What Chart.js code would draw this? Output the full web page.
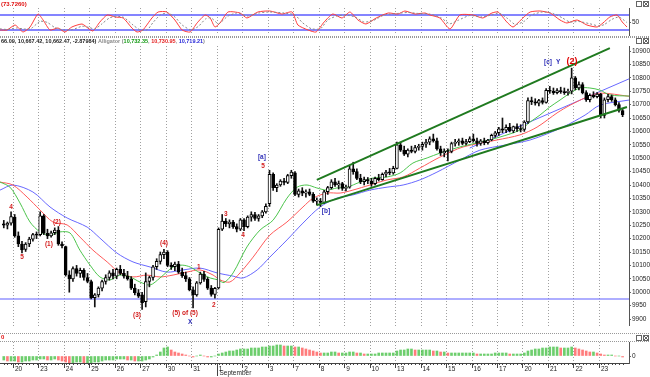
<!DOCTYPE html>
<html lang="en">
<head>
<meta charset="UTF-8">
<title>Dow Jones hourly - Alligator</title>
<style>
  body { margin: 0; background: #fff; }
  .wrap { position: relative; width: 650px; height: 377px; overflow: hidden; background: #fff; }
  canvas { position: absolute; left: 0; }
</style>
</head>
<body>
<div class="wrap">
  <canvas id="stoch" width="650" height="37" style="top:0"></canvas>
  <canvas id="price" width="650" height="289" style="top:37px"></canvas>
  <canvas id="osc" width="650" height="51" style="top:326px"></canvas>
</div>
<script src="https://cdn.jsdelivr.net/npm/chart.js@4"></script>
<script>
// hourly bars, 7 per session, index 0 = Aug 19 late session
const opens  = [10255,10250,10258, 10280,10210,10180,10160,10180,10198,10215, 10215,10285,10220,10210,10222,10232,10180,
  10170,10065,10050,10088,10070,10082,10055, 10040,9980,9990,10015,10040,10055,10072, 10060,10085,10070,10060,10050,10015,9998,
  9990,9965,10040,10055,10095,10115,10140, 10150,10100,10095,10105,10075,10062,10050, 10009,9990,10035,10068,10048,10015,9992,
  10016,10235,10265,10255,10262,10245,10235, 10270,10245,10280,10290,10275,10285,10300, 10330,10440,10390,10400,10415,10410,10435,
  10445,10365,10378,10370,10375,10365,10340, 10340,10335,10375,10390,10412,10400,10405, 10387,10392,10460,10450,10425,10412,10420,
  10415,10405,10425,10420,10440,10448,10445, 10462,10550,10530,10515,10530,10525,10540, 10544,10552,10560,10572,10565,10535,10520,
  10526,10525,10555,10560,10565,10555,10562, 10572,10565,10555,10565,10558,10568,10585, 10595,10610,10605,10615,10602,10618,10610,
  10607,10635,10715,10710,10705,10715,10708, 10753,10750,10745,10752,10748,10745,10750, 10800,10762,10775,10745,10718,10735,10730,
  10739,10660,10718,10730,10718,10700,10678];
const highs  = [10268,10262,10300, 10290,10225,10190,10185,10205,10220,10225, 10300,10290,10235,10228,10240,10245,10188,
  10172,10080,10095,10100,10090,10088,10070, 10045,9995,10020,10045,10065,10080,10085, 10090,10100,10085,10078,10058,10030,10010,
  10000,10072,10060,10100,10125,10150,10160, 10155,10110,10112,10115,10090,10075,10055, 10020,10040,10075,10078,10055,10025,10018,
  10240,10290,10275,10270,10268,10255,10275, 10275,10285,10300,10298,10290,10305,10330, 10455,10445,10405,10420,10425,10440,10455,
  10450,10385,10390,10382,10385,10372,10352, 10350,10380,10395,10420,10425,10415,10410, 10400,10470,10485,10460,10440,10430,10428,
  10425,10430,10440,10445,10455,10462,10470, 10560,10560,10545,10535,10545,10548,10552, 10560,10570,10580,10590,10575,10545,10535,
  10535,10560,10570,10572,10575,10570,10580, 10590,10575,10570,10575,10570,10590,10600, 10615,10650,10625,10630,10620,10628,10625,
  10640,10725,10728,10722,10720,10725,10760, 10768,10762,10760,10765,10762,10758,10836, 10805,10785,10782,10752,10740,10748,10745,
  10742,10725,10738,10736,10725,10708,10682];
const lows   = [10240,10236,10250, 10205,10170,10147,10152,10170,10190,10200, 10210,10215,10200,10205,10215,10175,10165,
  10060,10000,10040,10060,10055,10045,10035, 9975,9945,9982,10005,10030,10045,10050, 10050,10065,10052,10045,10010,9990,9980,
  9936,9945,10020,10045,10085,10105,10125, 10095,10085,10080,10070,10055,10040,10005, 9941,9985,10030,10040,10010,9985,9978,
  10012,10230,10245,10240,10238,10225,10230, 10230,10240,10265,10268,10265,10278,10295, 10320,10380,10375,10395,10400,10405,10425,
  10360,10355,10360,10355,10360,10335,10325, 10320,10330,10365,10385,10395,10385,10380, 10378,10388,10440,10420,10405,10400,10405,
  10395,10400,10415,10418,10430,10438,10440, 10460,10525,10510,10505,10520,10520,10530, 10530,10540,10550,10560,10530,10510,10505,
  10490,10520,10545,10548,10550,10550,10558, 10560,10545,10548,10550,10552,10565,10578, 10585,10595,10595,10598,10595,10600,10598,
  10600,10630,10700,10698,10695,10702,10705, 10742,10738,10740,10742,10738,10735,10740, 10755,10755,10740,10712,10710,10725,10725,
  10650,10650,10710,10712,10695,10672,10655];
const closes = [10250,10258,10282, 10210,10180,10158,10180,10198,10215,10213, 10285,10220,10210,10222,10232,10180,10174,
  10065,10050,10088,10070,10082,10055,10040, 9980,9990,10015,10040,10055,10072,10060, 10085,10070,10060,10050,10015,9998,9985,
  9960,10040,10055,10095,10115,10140,10150, 10100,10095,10105,10075,10062,10050,10009, 9990,10035,10068,10048,10015,9992,10014,
  10235,10265,10255,10262,10245,10235,10270, 10245,10280,10290,10275,10285,10300,10320, 10440,10390,10400,10415,10410,10435,10448,
  10365,10378,10370,10375,10365,10340,10340, 10335,10375,10390,10412,10400,10405,10387, 10392,10460,10450,10425,10412,10420,10415,
  10405,10425,10420,10440,10448,10445,10462, 10550,10530,10515,10530,10525,10540,10544, 10552,10560,10572,10565,10535,10520,10526,
  10525,10555,10560,10565,10555,10562,10572, 10565,10555,10565,10558,10568,10585,10595, 10610,10605,10615,10602,10618,10610,10607,
  10635,10715,10710,10705,10715,10708,10753, 10750,10745,10752,10748,10745,10750,10800, 10762,10775,10745,10718,10735,10730,10739,
  10660,10718,10730,10718,10700,10678,10662];

// Alligator lines: [bar index, value]
const lipsLine = [[-1.04,10411],[1.7,10392],[4.45,10333],[7.2,10262],[9.95,10225],[12.7,10213],[15.4,10225],[18.2,10221],
  [20.9,10157],[23.7,10101],[26.4,10057],[29.2,10046],[31.9,10064],[34.7,10057],[37.4,10038],[40.2,10027],[42.9,10053],
  [46.5,10094],[49,10101],[51.2,10094],[53.9,10072],[56.7,10053],[58.9,10046],[60.5,10036],[63,10072],[66.8,10169],
  [70.4,10232],[74,10269],[77.8,10351],[80.6,10392],[83.3,10400],[86,10389],[88.8,10381],[91.5,10389],[94.3,10392],
  [97.9,10411],[101.4,10426],[105.3,10430],[108.9,10445],[112.4,10482],[116.3,10501],[119.8,10519],[125.3,10542],
  [130.8,10560],[136.3,10579],[141.8,10605],[144.6,10635],[147.3,10661],[150,10691],[152.8,10717],[155.6,10743],
  [158.3,10762],[161,10762],[163.8,10754],[166.5,10736],[171.76,10732]];
const teethLine = [[-1.04,10411],[2.5,10400],[6.4,10355],[9.95,10307],[13.5,10262],[17.4,10251],[20.9,10206],[24.5,10157],
  [28.4,10113],[31.9,10072],[35.5,10057],[39.3,10064],[42.9,10057],[46.5,10064],[50.3,10075],[53.9,10083],[57.5,10064],
  [59.4,10046],[62.1,10038],[64.9,10072],[68.5,10131],[73.1,10213],[77.8,10262],[82.2,10318],[85,10351],[88.8,10370],
  [92.4,10370],[95.9,10381],[100.6,10400],[105.3,10419],[109.7,10430],[114.3,10463],[119.8,10504],[126.2,10542],
  [135.5,10568],[141.8,10587],[146.5,10616],[152,10669],[155.6,10698],[160.2,10728],[163.8,10743],[171.76,10731]];
const jawLine = [[-1.04,10381],[2.5,10400],[8,10374],[12.7,10318],[17.4,10277],[22.9,10243],[26.4,10202],[31.1,10146],
  [35.5,10113],[40.2,10094],[44.8,10075],[49.2,10083],[53.9,10090],[58.6,10072],[63,10060],[65.7,10053],[69.6,10083],
  [73.1,10131],[77.8,10195],[82.2,10258],[86.9,10318],[91.5,10351],[95.9,10363],[100.6,10381],[105.3,10392],[109.7,10400],
  [114.3,10419],[119,10448],[125.3,10493],[130.8,10530],[137.7,10549],[144.6,10568],[153.6,10616],[159.7,10661],
  [163.8,10698],[171.76,10717]];

// hand drawn lines
const upperChannel = [[86.0,10419],[166.5,10911]];
const lowerChannel = [[86.0,10325],[171.2,10691]];
const blueTrend = [[128.0,10538],[171.76,10796]];
const supportLevel = 9975;

// wave count labels: text, bar index, value, colour key
const waveNotes = [
  ['4',2.0,10318,'r'],['5',5.0,10131,'r'],['(1)',12.4,10180,'r'],['(2)',14.6,10262,'r'],['(3)',36.6,9915,'r'],
  ['(4)',44.0,10184,'r'],['(5) of (5)',49.8,9922,'r'],['X',51.2,9889,'b'],['1',53.6,10094,'r'],['2',57.7,9952,'r'],
  ['3',61.0,10292,'r'],['4',65.7,10213,'r'],['5',71.2,10471,'r'],['[a]',70.9,10504,'b'],['[b]',88.5,10303,'b'],
  ['[c]',149.5,10859,'b'],['Y',152.3,10859,'b'],['(2)',156.1,10859,'R']
];

// stochastic %K and %D
const stochK = [[-1.04,20],[0.9,20],[3.1,40],[5.3,12],[7.2,32],[9.4,84],[10.8,60],[12.7,20],[14.9,28],[16.8,12],[18.7,32],
  [21.5,44],[23.1,28],[24.5,16],[26.4,52],[28.4,80],[30.6,72],[32.8,68],[35.2,28],[36.6,12],[38.2,20],[40.7,68],[42.4,92],
  [44.8,92],[47,60],[49,20],[51.2,12],[53.1,48],[55.3,80],[56.7,68],[58,32],[59.4,48],[61.6,92],[64.9,88],[66.8,68],
  [69.8,92],[73.1,96],[76.4,84],[79.2,92],[80.8,40],[83.6,20],[85.8,12],[88,52],[90.4,84],[92.9,68],[95.1,92],[97.3,60],
  [99.5,44],[102.3,68],[105.6,88],[108.3,84],[110.2,96],[113,84],[115.7,88],[117.1,80],[119.8,68],[122.6,24],[125.3,80],
  [128.9,80],[131.6,68],[134.1,88],[135.8,92],[138.2,52],[139.9,32],[142.6,68],[144.6,92],[147.3,96],[150.1,88],
  [152.8,60],[154.7,48],[157.5,60],[160.2,40],[163,32],[164.6,48],[166.5,72],[168.5,80],[169.9,52],[171.2,32]];
const stochD = [[-1.04,25],[1,22],[3.5,28],[5.5,24],[7.5,26],[10,55],[12,50],[14,30],[16.5,20],[19,22],[21.5,35],[23.5,30],
  [25,24],[27,45],[29,68],[31,75],[33,70],[35.5,40],[37.5,20],[39.5,22],[41,50],[43,80],[45,88],[47,72],[49,40],[51.5,20],
  [53.5,35],[55.5,65],[57,68],[59,45],[61.5,75],[64,88],[67,76],[70,88],[73,92],[77,88],[80,80],[82,50],[84.5,25],[87,25],
  [89,60],[91.5,76],[94,80],[96.5,72],[99,52],[101.5,58],[104.5,80],[108,86],[111,90],[114,86],[117,84],[120,70],
  [122.5,45],[125,60],[128,78],[131,72],[134,80],[136,88],[138.5,65],[140.5,42],[143,55],[145,80],[148,92],[151,86],
  [153.5,68],[155.5,52],[158,54],[161,45],[163.5,36],[165,42],[167,62],[169,72],[171.2,50]];

// oscillator histogram, one value per bar
const oscVals = [-4,-5,-5, -5,-6,-6,-5,-5,-4,-4, -3,-3,-4,-4,-3,-4,-5, -6,-7,-7,-6,-6,-7,-7, -7,-6,-6,-5,-4,-4,-4,
  -3,-3,-3,-4,-4,-5,-5, -5,-4,-3,-1,1,4,8, 9,6,4,3,2,1,0, -1,0,1,0,-1,-1,0, 2,3,4,5,5,6,7, 7,7,8,8,8,9,9,
  10,10,11,11,10,10,10, 9,9,8,7,6,5,4, 3,3,3,4,4,3,3, 3,4,4,3,3,2,2, 2,2,3,3,3,3,3, 5,6,6,7,7,6,6,
  6,6,6,5,5,4,4, 3,3,3,3,3,3,3, 3,2,2,2,2,2,3, 3,3,3,2,2,2,2, 3,5,6,7,7,8,8, 9,9,9,8,8,8,9,
  8,7,6,5,4,4,3, 2,1,1,1,0,0,-1];

// sessions: first bar index of each day and its label
const dayStart = [3,10,17,24,31,38,45,52,59,66,73,80,87,94,101,108,115,122,129,136,143,150,157,164];
const dayLabels = ['20','23','24','25','26','27','30','31','1','2','3','7','8','9','10','13','14','15','16','17','20','21','22','23'];
const monthNote = ['September', 59];

const X_MIN = -1.04, X_MAX = 171.76;
const FONT = "'Liberation Sans', Arial, sans-serif";
Chart.defaults.font.family = FONT;

const pts = arr => arr.map(([x, y]) => ({ x, y }));
const flat = (y, color, width) => ({ type: 'line', data: [{ x: X_MIN, y }, { x: X_MAX, y }], borderColor: color,
  borderWidth: width, pointRadius: 0, order: 5 });
const xAxis = { type: 'linear', min: X_MIN, max: X_MAX, offset: false, display: false };
const rightAxis = (extra) => Object.assign({
  position: 'right',
  grid: { display: true, drawOnChartArea: false, drawTicks: true, tickLength: 2, color: '#666' },
  border: { display: true, color: '#555' },
  afterFit: s => { s.width = 21; s.paddingTop = 0; s.paddingBottom = 0; },
  ticks: { font: { size: 6.5 }, color: '#222', padding: 1 }
}, extra);
const baseOpts = pad => ({
  responsive: false, animation: false, events: [],
  layout: { padding: pad },
  plugins: { legend: { display: false }, tooltip: { enabled: false } }
});

const dayGrid = {
  id: 'dayGrid',
  beforeDatasetsDraw(chart) {
    const { ctx, chartArea: a, scales: { x } } = chart;
    ctx.save();
    ctx.strokeStyle = '#a0a0a0';
    ctx.lineWidth = 1;
    ctx.setLineDash([1, 2]);
    dayStart.forEach(d => {
      const px = Math.round(x.getPixelForValue(d - 0.5)) + 0.5;
      ctx.beginPath(); ctx.moveTo(px, a.top); ctx.lineTo(px, a.bottom); ctx.stroke();
    });
    ctx.restore();
  }
};

function hline(ctx, y, x1, x2, color, dash) {
  ctx.save();
  ctx.strokeStyle = color; ctx.lineWidth = 1; ctx.setLineDash(dash || []);
  ctx.beginPath(); ctx.moveTo(x1, y); ctx.lineTo(x2, y); ctx.stroke();
  ctx.restore();
}

function panelIcons(ctx, y) {
  ctx.save();
  ctx.strokeStyle = '#666'; ctx.lineWidth = 1;
  ctx.strokeRect(636.5, y + 0.5, 5, 5);
  ctx.strokeRect(643.5, y + 0.5, 5, 5);
  ctx.beginPath(); ctx.moveTo(644, y + 1); ctx.lineTo(648, y + 5); ctx.moveTo(648, y + 1); ctx.lineTo(644, y + 5); ctx.stroke();
  ctx.restore();
}

// ---------- stochastic panel ----------
new Chart(document.getElementById('stoch'), {
  type: 'line',
  data: { datasets: [
    flat(80, 'rgba(110,110,255,0.85)', 2),
    flat(20, 'rgba(110,110,255,0.85)', 2),
    { data: pts(stochD), borderColor: '#888', borderDash: [2, 2], borderWidth: 1, pointRadius: 0, tension: 0.2 },
    { data: pts(stochK), borderColor: '#ff3b3b', borderWidth: 1, pointRadius: 0, tension: 0.2 }
  ] },
  options: Object.assign(baseOpts({ top: 8, bottom: 2, left: 0, right: 0 }), {
    scales: {
      x: xAxis,
      y: rightAxis({ min: 0, max: 108, afterBuildTicks: s => { s.ticks = [{ value: 50 }]; } })
    }
  }),
  plugins: [dayGrid, {
    id: 'stochHead',
    afterDraw(chart) {
      const { ctx } = chart;
      ctx.save();
      ctx.font = 'bold 6px ' + FONT;
      ctx.fillStyle = '#e01010';
      ctx.textBaseline = 'middle';
      ctx.fillText('(73.7260)', 1, 4);
      ctx.restore();
      hline(ctx, 36.5, 0, 650, '#999', [1, 1]);
      panelIcons(ctx, 1);
    }
  }]
});

// ---------- price panel ----------
const headerParts = [
  ['66.09, 10,667.42, 10,662.47, -2.87984)', '#222'],
  [' Alligator (', '#8a8a8a'],
  ['10,732.35', '#159a15'],
  [', ', '#8a8a8a'],
  ['10,730.95', '#e41b1b'],
  [', ', '#8a8a8a'],
  ['10,719.21', '#2626d8'],
  [')', '#8a8a8a']
];
const noteColors = { r: '#d42020', b: '#3030b8', R: '#e00000' };

new Chart(document.getElementById('price'), {
  type: 'bar',
  data: { datasets: [
    { type: 'line', data: pts(lipsLine), borderColor: '#4cc44c', borderWidth: 1, pointRadius: 0, tension: 0.3, order: 4 },
    { type: 'line', data: pts(teethLine), borderColor: '#ff5a5a', borderWidth: 1, pointRadius: 0, tension: 0.3, order: 4 },
    { type: 'line', data: pts(jawLine), borderColor: '#6868ff', borderWidth: 1, pointRadius: 0, tension: 0.3, order: 4 },
    { type: 'line', data: pts(blueTrend), borderColor: '#6868ff', borderWidth: 1, pointRadius: 0, order: 4 },
    { type: 'line', data: pts(upperChannel), borderColor: '#1f7a1f', borderWidth: 2, pointRadius: 0, order: 0 },
    { type: 'line', data: pts(lowerChannel), borderColor: '#1f7a1f', borderWidth: 2, pointRadius: 0, order: 0 },
    flat(supportLevel, 'rgba(120,120,255,0.8)', 1.5),
    { data: highs.map((h, i) => ({ x: i, y: [lows[i], h] })), backgroundColor: '#111', barThickness: 1,
      grouped: false, order: 2 },
    { data: opens.map((o, i) => ({ x: i, y: [Math.min(o, closes[i]), Math.max(o, closes[i])] })),
      backgroundColor: c => closes[c.dataIndex] >= opens[c.dataIndex] ? '#ffffff' : '#000000',
      borderColor: '#000', borderWidth: 1, borderSkipped: false, barThickness: 3, minBarLength: 1,
      grouped: false, order: 1 }
  ] },
  options: Object.assign(baseOpts({ top: 9, bottom: 0, left: 0, right: 0 }), {
    scales: {
      x: xAxis,
      y: rightAxis({ min: 9873.9, max: 10918.7,
        ticks: { stepSize: 50, includeBounds: false, font: { size: 6.5 }, color: '#222', padding: 1,
          callback: v => String(v) } })
    }
  }),
  plugins: [dayGrid, {
    id: 'priceText',
    afterDraw(chart) {
      const { ctx, scales: { x, y } } = chart;
      hline(ctx, 0.5, 0, 650, '#999', [1, 1]);
      ctx.save();
      ctx.textBaseline = 'middle';
      ctx.font = 'bold 5.5px ' + FONT;
      let px = 1;
      headerParts.forEach(([t, col]) => {
        ctx.fillStyle = col;
        ctx.fillText(t, px, 4.5);
        px += ctx.measureText(t).width;
      });
      ctx.textAlign = 'center';
      waveNotes.forEach(([t, i, v, c]) => {
        ctx.font = (c === 'R' ? 'bold 9px ' : 'bold 6.5px ') + FONT;
        ctx.fillStyle = noteColors[c];
        ctx.fillText(t, x.getPixelForValue(i), y.getPixelForValue(v));
      });
      ctx.restore();
      panelIcons(ctx, 1);
    }
  }]
});

// ---------- oscillator + time axis ----------
new Chart(document.getElementById('osc'), {
  type: 'bar',
  data: { datasets: [
    { data: oscVals.map((v, i) => ({ x: i, y: v })),
      backgroundColor: c => (c.dataIndex === 0 || oscVals[c.dataIndex] >= oscVals[c.dataIndex - 1])
        ? 'rgba(60,190,60,0.75)' : 'rgba(255,80,80,0.75)',
      barThickness: 2, grouped: false }
  ] },
  options: Object.assign(baseOpts({ top: 16, bottom: 0, left: 0, right: 0 }), {
    scales: {
      x: {
        type: 'linear', min: X_MIN, max: X_MAX, offset: false, position: 'bottom',
        grid: { display: false, drawTicks: false },
        border: { display: true, color: '#444' },
        afterFit: s => { s.height = 14; s.paddingLeft = 0; s.paddingRight = 0; },
        afterBuildTicks: s => { s.ticks = dayStart.map(d => ({ value: d - 0.5 })); },
        ticks: { autoSkip: false, maxRotation: 0, align: 'start', labelOffset: 2, padding: 2,
          font: { size: 6.5 }, color: '#222', callback: (v, idx) => dayLabels[idx] }
      },
      y: rightAxis({ min: -7, max: 14, afterBuildTicks: s => { s.ticks = [{ value: 0 }]; } })
    }
  }),
  plugins: [dayGrid, {
    id: 'oscText',
    afterDraw(chart) {
      const { ctx, scales: { x } } = chart;
      hline(ctx, 7.5, 0, 650, '#999', [1, 1]);
      hline(ctx, 15.5, 0, 650, '#999', [1, 1]);
      panelIcons(ctx, 9);
      ctx.save();
      ctx.font = 'bold 6px ' + FONT;
      ctx.fillStyle = '#e01010';
      ctx.textBaseline = 'middle';
      ctx.fillText('0', 1, 11.5);
      // hourly and session ticks on the time axis
      const y0 = x.top;
      ctx.strokeStyle = '#444'; ctx.lineWidth = 1;
      ctx.beginPath();
      closes.forEach((c, i) => {
        const px = Math.round(x.getPixelForValue(i)) + 0.5;
        ctx.moveTo(px, y0); ctx.lineTo(px, y0 + 2);
      });
      dayStart.forEach(d => {
        const px = Math.round(x.getPixelForValue(d - 0.5)) + 0.5;
        ctx.moveTo(px, y0); ctx.lineTo(px, y0 + 5);
      });
      ctx.stroke();
      ctx.font = '6.5px ' + FONT;
      ctx.fillStyle = '#222';
      const mx = Math.round(x.getPixelForValue(monthNote[1] - 0.5)) + 0.5;
      ctx.beginPath(); ctx.moveTo(mx, y0); ctx.lineTo(mx, y0 + 13); ctx.stroke();
      ctx.fillText(monthNote[0], mx + 2, y0 + 10);
      ctx.restore();
    }
  }]
});
</script>
</body>
</html>
